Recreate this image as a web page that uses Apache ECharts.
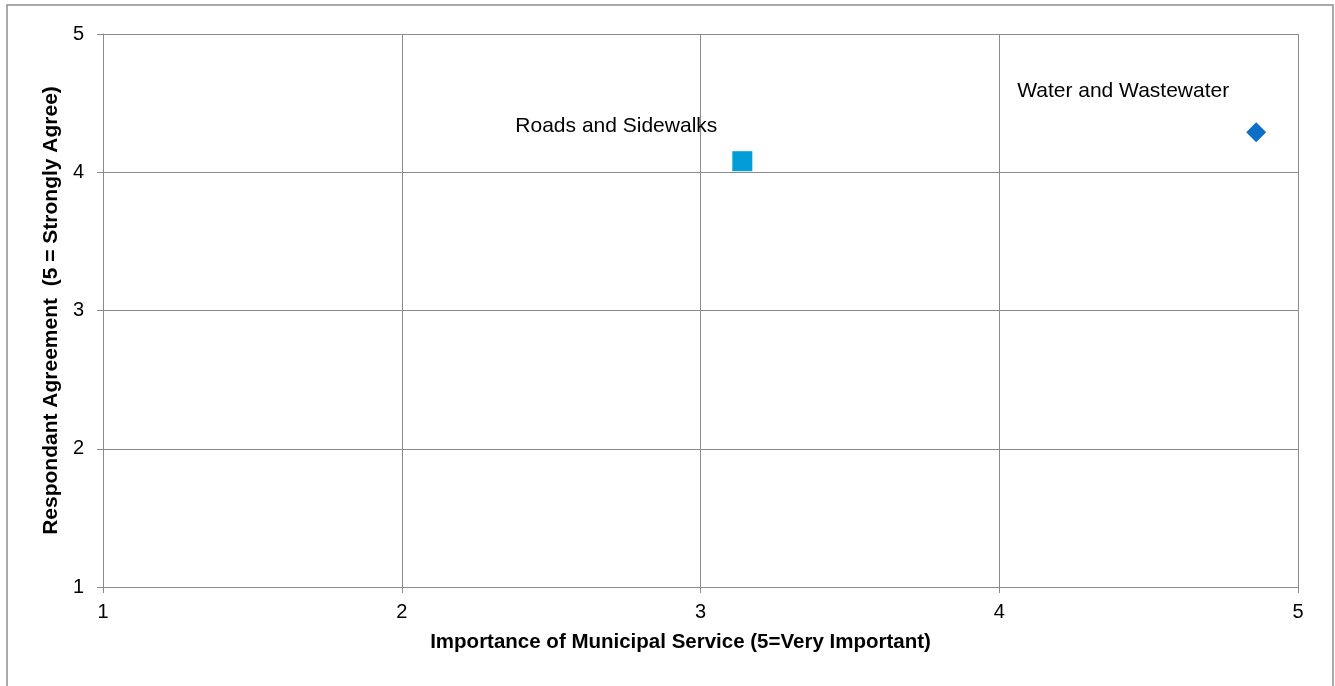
<!DOCTYPE html>
<html>
<head>
<meta charset="utf-8">
<script src="https://cdn.jsdelivr.net/npm/echarts@6/dist/echarts.min.js"></script>
<style>
html,body{margin:0;padding:0;background:#fff;}
#c{width:1335px;height:686px;}
</style>
</head>
<body>
<div id="c"></div>
<script>
const seriesNames = ['Water and Wastewater', 'Roads and Sidewalks'];
const waterPoint = [4.86, 4.29];
const roadsPoint = [3.14, 4.08];
const xTicks = [1, 2, 3, 4, 5];
const yTicks = [1, 2, 3, 4, 5];
const xTitle = 'Importance of Municipal Service (5=Very Important)';
const yTitle = 'Respondant Agreement  (5 = Strongly Agree)';

const FONT = "'Liberation Sans', Arial, sans-serif";
const GRID = '#8a8a8a';

const chart = echarts.init(document.getElementById('c'), null, {renderer: 'canvas'});
chart.setOption({
  animation: false,
  backgroundColor: '#fff',
  graphic: [{
    type: 'rect',
    shape: {x: 7, y: 5, width: 1326, height: 700},
    style: {fill: 'none', stroke: '#8e8e8e', lineWidth: 1.5},
    silent: true, z: -1
  }],
  grid: {left: 103, right: 37, top: 34, bottom: 99},
  xAxis: {
    type: 'value', min: xTicks[0], max: xTicks[xTicks.length - 1], interval: 1,
    name: xTitle, nameLocation: 'middle', nameGap: 45,
    nameTextStyle: {fontFamily: FONT, fontSize: 20.5, fontWeight: 'bold', color: '#000', padding: [0, 40, 0, 0]},
    axisLine: {show: true, onZero: false, lineStyle: {color: GRID, width: 1}},
    axisTick: {show: true, length: 6, lineStyle: {color: GRID, width: 1}},
    axisLabel: {fontFamily: FONT, fontSize: 20, color: '#000', margin: 15},
    splitLine: {show: true, lineStyle: {color: GRID, width: 1}}
  },
  yAxis: {
    type: 'value', min: yTicks[0], max: yTicks[yTicks.length - 1], interval: 1,
    name: yTitle, nameLocation: 'middle', nameGap: 37, nameRotate: 90,
    nameTextStyle: {fontFamily: FONT, fontSize: 21, fontWeight: 'bold', color: '#000'},
    axisLine: {show: true, onZero: false, lineStyle: {color: GRID, width: 1}},
    axisTick: {show: true, length: 6, lineStyle: {color: GRID, width: 1}},
    axisLabel: {fontFamily: FONT, fontSize: 20, color: '#000', margin: 19},
    splitLine: {show: true, lineStyle: {color: GRID, width: 1}}
  },
  series: [
    {
      name: seriesNames[0], type: 'scatter', symbol: 'diamond', symbolSize: 20,
      itemStyle: {color: '#0F6FC6', opacity: 1},
      data: [waterPoint],
      label: {show: true, position: 'inside', offset: [-133, -41],
        formatter: seriesNames[0], fontFamily: FONT, fontSize: 21, color: '#000', opacity: 1}
    },
    {
      name: seriesNames[1], type: 'scatter', symbol: 'rect', symbolSize: 20,
      itemStyle: {color: '#009DD9', opacity: 1},
      data: [roadsPoint],
      label: {show: true, position: 'inside', offset: [-126, -35],
        formatter: seriesNames[1], fontFamily: FONT, fontSize: 21, color: '#000', opacity: 1}
    }
  ]
});
</script>
</body>
</html>
